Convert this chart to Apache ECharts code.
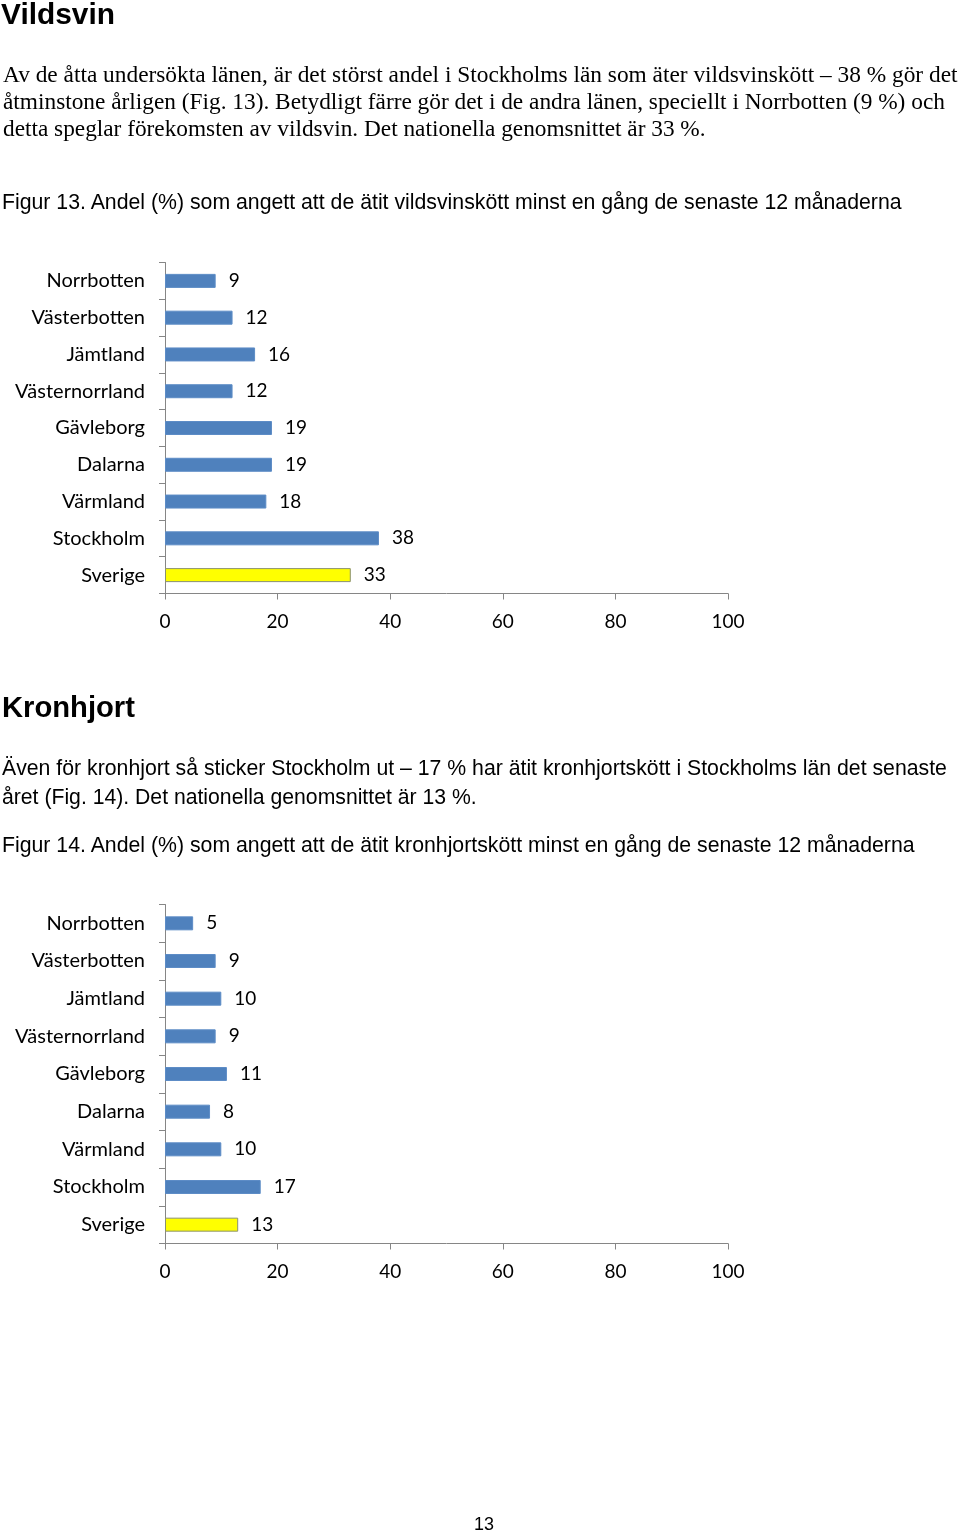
<!DOCTYPE html>
<html>
<head>
<meta charset="utf-8">
<script src="https://cdn.jsdelivr.net/npm/echarts@6/dist/echarts.min.js"></script>
<style>
html,body{margin:0;padding:0;background:#fff;}
#page{position:relative;width:960px;height:1533px;overflow:hidden;background:#fff;}
#chart{position:absolute;left:0;top:0;width:960px;height:1533px;}
.t{position:absolute;white-space:nowrap;color:#000;margin:0;padding:0;}
</style>
</head>
<body>
<div id="page"><div id="chart"></div></div>
<script>
// ---- data ----
var categories = ['Norrbotten','Västerbotten','Jämtland','Västernorrland','Gävleborg','Dalarna','Värmland','Stockholm','Sverige'];
var vildsvinValues = [9,12,16,12,19,19,18,38,33];
var kronhjortValues = [5,9,10,9,11,8,10,17,13];
var axisMin = 0, axisMax = 100, axisInterval = 20;
var highlightCategory = 'Sverige';

// ---- text lines (text, x, baseline, width, family, weight, nominal size) ----
var SANS = '"Liberation Sans", Arial, sans-serif';
var SERIF = '"Liberation Serif", "Times New Roman", serif';
var lines = [
  ['Vildsvin', 1, 24, 114, SANS, 'bold', 30],
  ['Av de åtta undersökta länen, är det störst andel i Stockholms län som äter vildsvinskött – 38 % gör det', 3, 82.5, 955, SERIF, 'normal', 22],
  ['åtminstone årligen (Fig. 13). Betydligt färre gör det i de andra länen, speciellt i Norrbotten (9 %) och', 3, 109.3, 942, SERIF, 'normal', 22],
  ['detta speglar förekomsten av vildsvin. Det nationella genomsnittet är 33 %.', 3, 136.2, 703, SERIF, 'normal', 22],
  ['Figur 13. Andel (%) som angett att de ätit vildsvinskött minst en gång de senaste 12 månaderna', 2, 210.5, 900, SANS, 'normal', 20],
  ['Kronhjort', 2, 718, 133, SANS, 'bold', 30],
  ['Även för kronhjort så sticker Stockholm ut – 17 % har ätit kronhjortskött i Stockholms län det senaste', 2, 776, 945, SANS, 'normal', 20],
  ['året (Fig. 14). Det nationella genomsnittet är 13 %.', 2, 803.5, 475, SANS, 'normal', 20],
  ['Figur 14. Andel (%) som angett att de ätit kronhjortskött minst en gång de senaste 12 månaderna', 2, 853, 913, SANS, 'normal', 20],
  ['13', 474, 1530, 20, SANS, 'normal', 20]
];
var page = document.getElementById('page');
lines.forEach(function(l){
  var d = document.createElement('div');
  d.className = 't';
  d.textContent = l[0];
  d.style.fontFamily = l[4];
  d.style.fontWeight = l[5];
  d.style.fontSize = l[6] + 'px';
  d.style.lineHeight = l[6] + 'px';
  d.style.left = l[1] + 'px';
  page.appendChild(d);
  var w = d.getBoundingClientRect().width;
  var fs = l[6] * l[3] / w;
  d.style.fontSize = fs + 'px';
  d.style.lineHeight = fs + 'px';
  var k = (l[4] === SERIF) ? 0.8375 : 0.8465;
  d.style.top = (l[2] - k * fs) + 'px';
});

// ---- chart ----
var AXIS_COLOR = '#868686';
var LABEL_FONT = 'Lato, "Open Sans", sans-serif';
function barData(values){
  return values.map(function(v, i){
    if (categories[i] === highlightCategory) {
      return {value: v, itemStyle: {color: '#FFFF00', borderColor: '#8a9070', borderWidth: 1}};
    }
    return {value: v, itemStyle: {color: '#4F81BD', borderColor: '#5d8cc6', borderWidth: 1}};
  });
}
function xAxisFor(gi){
  return {
    gridIndex: gi, type: 'value', min: axisMin, max: axisMax, interval: axisInterval,
    axisLine: {show: true, lineStyle: {color: AXIS_COLOR, width: 1}},
    axisTick: {show: true, length: 6, lineStyle: {color: AXIS_COLOR}},
    splitLine: {show: false},
    axisLabel: {fontFamily: LABEL_FONT, fontSize: 19, color: '#000', margin: 19}
  };
}
function yAxisFor(gi){
  return {
    gridIndex: gi, type: 'category', data: categories, inverse: true,
    axisLine: {show: true, lineStyle: {color: AXIS_COLOR, width: 1}},
    axisTick: {show: true, length: 6, lineStyle: {color: AXIS_COLOR}},
    splitLine: {show: false},
    axisLabel: {fontFamily: LABEL_FONT, fontSize: 20, color: '#000', margin: 20}
  };
}
function seriesFor(gi, values){
  return {
    type: 'bar', xAxisIndex: gi, yAxisIndex: gi, barWidth: 14,
    data: barData(values),
    label: {show: true, position: 'right', distance: 13, fontFamily: LABEL_FONT, fontSize: 19, color: '#000'}
  };
}
var chart = echarts.init(document.getElementById('chart'), null, {renderer: 'canvas'});
chart.setOption({
  animation: false,
  backgroundColor: 'transparent',
  grid: [
    {left: 165, top: 262.5, width: 563, height: 331},
    {left: 165, top: 904.5, width: 563, height: 339}
  ],
  xAxis: [xAxisFor(0), xAxisFor(1)],
  yAxis: [yAxisFor(0), yAxisFor(1)],
  series: [seriesFor(0, vildsvinValues), seriesFor(1, kronhjortValues)]
});
</script>
</body>
</html>
